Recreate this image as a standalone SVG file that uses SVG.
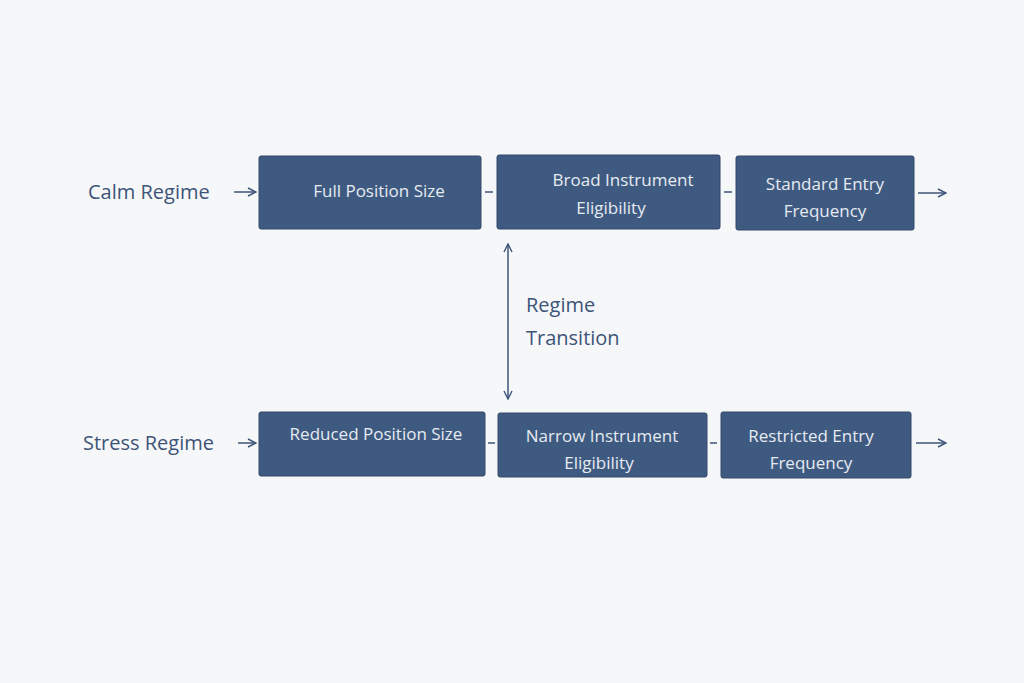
<svg xmlns="http://www.w3.org/2000/svg" width="1024" height="683" viewBox="0 0 1024 683">
<defs>
<marker id="ah" viewBox="0 0 10 10" refX="9" refY="5" markerWidth="10" markerHeight="10" markerUnits="userSpaceOnUse" orient="auto-start-reverse"><path d="M1,1 L9,5 L1,9" fill="none" stroke="#3d5478" stroke-width="1.4"/></marker>
</defs>
<style>
.box{fill:#3f5a80;stroke:#34496a;stroke-width:1}
.bt{font-family:"Open Sans",sans-serif;font-size:17px;fill:#e6ebf2;text-anchor:middle}
.lt{font-family:"Open Sans",sans-serif;font-size:20px;fill:#3d5478}
.c{stroke:#3d5478;stroke-width:1.5;fill:none}
</style>
<rect width="1024" height="683" fill="#f6f7f9"/>
<g id="calm-label"><text class="lt" x="88" y="199">Calm Regime</text></g>
<g id="stress-label"><text class="lt" x="83" y="450">Stress Regime</text></g>
<g id="n1"><rect class="box" x="259" y="156" width="222" height="73" rx="2"/><text class="bt" x="379" y="197">Full Position Size</text></g>
<g id="n2"><rect class="box" x="497" y="155" width="223" height="74" rx="2"/><text class="bt" x="623" y="186">Broad Instrument</text><text class="bt" x="611" y="214">Eligibility</text></g>
<g id="n3"><rect class="box" x="736" y="156" width="178" height="74" rx="2"/><text class="bt" x="825" y="190">Standard Entry</text><text class="bt" x="825" y="217">Frequency</text></g>
<g id="n4"><rect class="box" x="259" y="412" width="226" height="64" rx="2"/><text class="bt" x="376" y="440">Reduced Position Size</text></g>
<g id="n5"><rect class="box" x="498" y="413" width="209" height="64" rx="2"/><text class="bt" x="602" y="442">Narrow Instrument</text><text class="bt" x="599" y="469">Eligibility</text></g>
<g id="n6"><rect class="box" x="721" y="412" width="190" height="66" rx="2"/><text class="bt" x="811" y="442">Restricted Entry</text><text class="bt" x="811" y="469">Frequency</text></g>
<g id="transition-label"><text class="lt" x="526" y="312">Regime</text><text class="lt" x="526" y="345">Transition</text></g>
<g id="connectors">
<line class="c" x1="234" y1="192" x2="256" y2="192" marker-end="url(#ah)"/>
<line class="c" x1="238" y1="443" x2="256" y2="443" marker-end="url(#ah)"/>
<line class="c" x1="485" y1="192" x2="493" y2="192"/>
<line class="c" x1="724" y1="192" x2="732" y2="192"/>
<line class="c" x1="488" y1="443" x2="495" y2="443"/>
<line class="c" x1="710" y1="443" x2="717" y2="443"/>
<line class="c" x1="918" y1="193" x2="946" y2="193" marker-end="url(#ah)"/>
<line class="c" x1="916" y1="443" x2="946" y2="443" marker-end="url(#ah)"/>
<line class="c" x1="508" y1="244" x2="508" y2="399" marker-start="url(#ah)" marker-end="url(#ah)"/>
</g>
</svg>
